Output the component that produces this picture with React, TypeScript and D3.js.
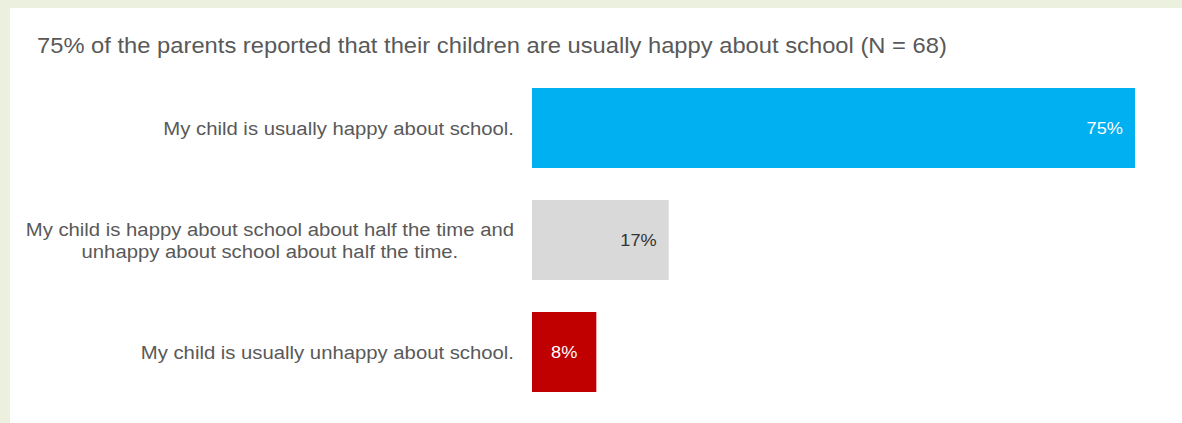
import React, { useEffect, useRef } from "react";
import * as d3 from "d3";

const title = "75% of the parents reported that their children are usually happy about school (N = 68)";
const categories = [
  ["My child is usually happy about school."],
  ["My child is happy about school about half the time and", "unhappy about school about half the time."],
  ["My child is usually unhappy about school."],
];
const values = [75, 17, 8];
const valueLabels = ["75%", "17%", "8%"];
const barColors = ["#00B0F0", "#D9D9D9", "#C00000"];
const labelColors = ["#FFFFFF", "#333333", "#FFFFFF"];

const W = 1182;
const H = 423;
const FONT = "Liberation Sans, Arial, sans-serif";

export default function App() {
  const ref = useRef<SVGSVGElement | null>(null);

  useEffect(() => {
    const svg = d3.select(ref.current);
    svg.selectAll("*").remove();

    svg.append("rect").attr("x", 0).attr("y", 0).attr("width", W).attr("height", H).attr("fill", "#FFFFFF");
    svg.append("rect").attr("x", 0).attr("y", 0).attr("width", W).attr("height", 8).attr("fill", "#EBF1DE");
    svg.append("rect").attr("x", 0).attr("y", 0).attr("width", 10).attr("height", H).attr("fill", "#EBF1DE");

    const titleSx = 1.115;
    svg.append("text")
      .attr("transform", `translate(37,53) scale(${titleSx},1)`)
      .attr("font-family", FONT)
      .attr("font-size", 21.3)
      .attr("fill", "#595959")
      .text(title);

    const x = d3.scaleLinear().domain([0, 75]).range([532, 1135]);
    const y = d3.scaleBand<number>()
      .domain(d3.range(values.length))
      .range([60, 420])
      .paddingInner(0.2857)
      .paddingOuter(0.25);

    const g = svg.append("g");
    const labelSx = 1.08;
    values.forEach((v, i) => {
      const y0 = y(i)!;
      const bw = y.bandwidth();
      g.append("rect")
        .attr("x", x(0)).attr("y", y0)
        .attr("width", x(v) - x(0)).attr("height", bw)
        .attr("fill", barColors[i]);

      const cy = y0 + bw / 2;
      const lbl = g.append("text")
        .attr("font-family", FONT)
        .attr("font-size", 17)
        .attr("fill", labelColors[i])
        .attr("text-anchor", i === 2 ? "middle" : "end")
        .text(valueLabels[i]);
      const lx = i === 2 ? (x(0) + x(v)) / 2 : x(v) - 12;
      lbl.attr("transform", `translate(${lx},${cy + 6}) scale(1.07,1)`);

      const lines = categories[i];
      const lh = 22;
      const t = g.append("text")
        .attr("font-family", FONT)
        .attr("font-size", 18.8)
        .attr("fill", "#595959")
        .attr("text-anchor", "middle");
      lines.forEach((ln, k) => {
        t.append("tspan")
          .attr("x", 0)
          .attr("y", cy + 7 + (k - (lines.length - 1) / 2) * lh)
          .text(ln);
      });
      const node = t.node() as SVGTextElement;
      const bb = node.getBBox();
      t.attr("transform", `translate(${514 - (bb.width * labelSx) / 2},0) scale(${labelSx},1)`);
    });
  }, []);

  return (
    <svg
      ref={ref}
      width={W}
      height={H}
      style={{ position: "absolute", left: 0, top: 0, display: "block" }}
    />
  );
}
